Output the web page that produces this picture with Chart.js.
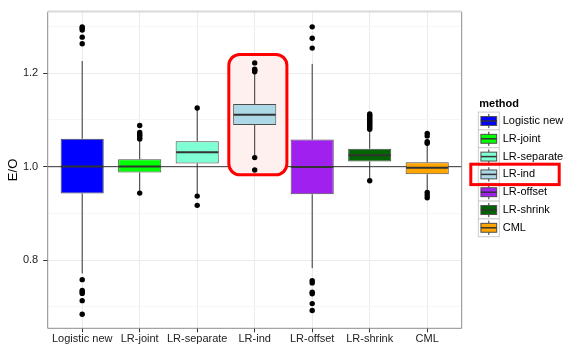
<!DOCTYPE html>
<html>
<head>
<meta charset="utf-8">
<script src="https://cdn.jsdelivr.net/npm/chart.js@4"></script>
<style>
  html, body { margin: 0; padding: 0; background: #fff; }
  canvas { display: block; }
</style>
</head>
<body>
<canvas id="c" width="565" height="345"></canvas>
<script>
// Box-plot summary of E/O per method
const categories  = ['Logistic new', 'LR-joint', 'LR-separate', 'LR-ind', 'LR-offset', 'LR-shrink', 'CML'];
const q1          = [0.9426, 0.9875, 1.0070, 1.0890, 0.9410, 1.0112, 0.9838];
const q3          = [1.0598, 1.0160, 1.0545, 1.1340, 1.0580, 1.0384, 1.0092];
const medians     = [1.0002, 1.0004, 1.0306, 1.1108, 0.9995, 1.0247, 0.9978];
const whiskerLow  = [0.7717, 0.9460, 0.9410, 1.0220, 0.7830, 0.9720, 0.9470];
const whiskerHigh = [1.2260, 1.0560, 1.1225, 1.1990, 1.2198, 1.0775, 1.0490];

// Points beyond the whiskers, one list per method
const outliersLogisticNew = [1.2990, 1.2960, 1.2920, 1.2770, 1.2630, 0.7584, 0.7352, 0.7320, 0.7290, 0.7135, 0.6846];
const outliersJoint       = [1.0880, 1.0730, 1.0690, 1.0660, 1.0620, 1.0590, 0.9435];
const outliersSeparate    = [1.1255, 0.9371, 0.9173];
const outliersInd         = [1.2219, 1.2084, 1.2055, 1.2030, 1.0194, 0.9930];
const outliersOffset      = [1.2990, 1.2747, 1.2536, 0.7563, 0.7515, 0.7317, 0.7283, 0.7072, 0.6924];
const outliersShrink      = [1.1129, 1.1100, 1.1070, 1.1040, 1.1010, 1.0980, 1.0950, 1.0920, 1.0890, 1.0860, 1.0830, 1.0798, 0.9700];
const outliersCML         = [1.0713, 1.0658, 1.0532, 1.0500, 0.9447, 0.9392, 0.9335];
const outliers = [outliersLogisticNew, outliersJoint, outliersSeparate, outliersInd, outliersOffset, outliersShrink, outliersCML];

const fillColors = ['#0000FF', '#00FF00', '#7FFFD4', '#ADD8E6', '#A020F0', '#006400', '#FFA500'];
const yTicks     = [0.7, 0.8, 0.9, 1.0, 1.1, 1.2, 1.3];
const yLabelled  = [0.8, 1.0, 1.2];
const refValue   = 1.0;
const legendTitle = 'method';
const highlightIndex = 3; // LR-ind

const FONT = '"Liberation Sans", Arial, Helvetica, sans-serif';
const isMajor = v => yLabelled.some(t => Math.abs(t - v) < 1e-6);

const boxData = categories.map((c, i) => ({ x: i + 1, y: [q1[i], q3[i]] }));
const outlierPoints = [];
outliers.forEach((list, i) => list.forEach(v => outlierPoints.push({ x: i + 1, y: v })));

// Highlight frame around one method, in data units
const highlight = { x0: highlightIndex + 1 - 0.45, x1: highlightIndex + 1 + 0.56, y0: 0.9825, y1: 1.240 };

const boxExtras = {
  id: 'boxExtras',
  beforeDatasetsDraw(chart) {
    const { ctx, chartArea: a, scales: { x, y } } = chart;
    ctx.save();
    // reference line at E/O = 1
    const yr = y.getPixelForValue(refValue);
    ctx.strokeStyle = '#333';
    ctx.lineWidth = 1;
    ctx.beginPath(); ctx.moveTo(a.left, yr); ctx.lineTo(a.right, yr); ctx.stroke();

    // highlight frame
    const hx0 = x.getPixelForValue(highlight.x0), hx1 = x.getPixelForValue(highlight.x1);
    const hy0 = y.getPixelForValue(highlight.y1), hy1 = y.getPixelForValue(highlight.y0);
    ctx.beginPath();
    ctx.roundRect(hx0, hy0, hx1 - hx0, hy1 - hy0, 11);
    ctx.fillStyle = '#fff0f0';
    ctx.fill();
    ctx.lineWidth = 3;
    ctx.strokeStyle = '#ff0000';
    ctx.stroke();

    // whiskers
    ctx.strokeStyle = '#333';
    ctx.lineWidth = 1;
    categories.forEach((c, i) => {
      const px = x.getPixelForValue(i + 1);
      ctx.beginPath();
      ctx.moveTo(px, y.getPixelForValue(whiskerLow[i]));
      ctx.lineTo(px, y.getPixelForValue(q1[i]));
      ctx.moveTo(px, y.getPixelForValue(q3[i]));
      ctx.lineTo(px, y.getPixelForValue(whiskerHigh[i]));
      ctx.stroke();
    });
    ctx.restore();
  },
  afterDatasetDraw(chart, args) {
    if (args.index !== 0) return;
    const { ctx, scales: { y } } = chart;
    ctx.save();
    ctx.strokeStyle = '#333';
    ctx.lineWidth = 2;
    args.meta.data.forEach((bar, i) => {
      const { x, width } = bar.getProps(['x', 'width'], true);
      const py = y.getPixelForValue(medians[i]);
      ctx.beginPath();
      ctx.moveTo(x - width / 2 + 0.5, py);
      ctx.lineTo(x + width / 2 - 0.5, py);
      ctx.stroke();
    });
    ctx.restore();
  },
  afterDraw(chart) {
    const { ctx, chartArea: a } = chart;
    ctx.save();
    // panel border
    ctx.strokeStyle = '#8c8c8c';
    ctx.lineWidth = 1;
    ctx.beginPath();
    ctx.moveTo(a.left, a.top); ctx.lineTo(a.left, a.bottom); ctx.lineTo(a.right, a.bottom); ctx.lineTo(a.right, a.top);
    ctx.stroke();
    ctx.strokeStyle = '#d9d9d9';
    ctx.lineWidth = 2;
    ctx.beginPath(); ctx.moveTo(a.left, a.top); ctx.lineTo(a.right, a.top); ctx.stroke();

    // legend
    const kx = 478.3, kw = 21, kh = 17.8, top0 = 112.1;
    ctx.fillStyle = '#000';
    ctx.textBaseline = 'middle';
    ctx.textAlign = 'left';
    ctx.font = 'bold 11px ' + FONT;
    ctx.fillText(legendTitle, 479.3, 104);
    ctx.font = '11px ' + FONT;
    categories.forEach((c, i) => {
      const ty = top0 + kh * i, cy = ty + kh / 2, cx = kx + kw / 2;
      ctx.fillStyle = '#ffffff';
      ctx.fillRect(kx, ty, kw, kh);
      ctx.strokeStyle = '#cccccc';
      ctx.lineWidth = 1;
      ctx.strokeRect(kx, ty, kw, kh);
      ctx.strokeStyle = '#333';
      ctx.beginPath();
      ctx.moveTo(cx, ty + kh * 0.1); ctx.lineTo(cx, ty + kh * 0.25);
      ctx.moveTo(cx, ty + kh * 0.75); ctx.lineTo(cx, ty + kh * 0.9);
      ctx.stroke();
      const bx = kx + kw * 0.125, bw = kw * 0.75, by = ty + kh * 0.25, bh = kh * 0.5;
      ctx.fillStyle = fillColors[i];
      ctx.fillRect(bx, by, bw, bh);
      ctx.strokeStyle = '#4d4d4d';
      ctx.strokeRect(bx, by, bw, bh);
      ctx.lineWidth = 1.5;
      ctx.strokeStyle = '#333';
      ctx.beginPath(); ctx.moveTo(bx, cy); ctx.lineTo(bx + bw, cy); ctx.stroke();
      ctx.fillStyle = '#000';
      ctx.fillText(c, 502.7, cy);
    });
    // legend highlight
    ctx.strokeStyle = '#ff0000';
    ctx.lineWidth = 3;
    const hy = top0 + kh * highlightIndex + kh / 2;
    ctx.strokeRect(470.8, hy - 10.2, 88.4, 20.4);
    ctx.restore();
  }
};

new Chart(document.getElementById('c'), {
  type: 'bar',
  data: {
    datasets: [
      {
        type: 'bar',
        data: boxData,
        backgroundColor: fillColors,
        borderColor: '#4d4d4d',
        borderWidth: 1,
        borderSkipped: false,
        barPercentage: 0.75,
        categoryPercentage: 1,
        order: 2
      },
      {
        type: 'scatter',
        data: outlierPoints,
        pointRadius: 2.7,
        pointBackgroundColor: '#000',
        pointBorderWidth: 0,
        order: 1
      }
    ]
  },
  options: {
    responsive: false,
    animation: false,
    events: [],
    layout: { padding: { top: 7.3, right: 103.3, left: 0, bottom: 0 } },
    plugins: { legend: { display: false }, tooltip: { enabled: false } },
    scales: {
      x: {
        type: 'linear',
        offset: false,
        min: 0.4,
        max: 7.6,
        afterBuildTicks(s) { s.ticks = categories.map((c, i) => ({ value: i + 1 })); },
        afterFit(s) { s.height = 16.7; },
        ticks: {
          autoSkip: false,
          maxRotation: 0,
          padding: 0,
          color: '#222',
          font: { family: FONT, size: 11 },
          callback: v => categories[Math.round(v) - 1] ?? ''
        },
        grid: { offset: false, color: '#ebebeb', lineWidth: 1, tickLength: 4, tickColor: '#333' },
        border: { display: false }
      },
      y: {
        type: 'linear',
        min: 0.6544,
        max: 1.3316,
        afterBuildTicks(s) { s.ticks = yTicks.map(v => ({ value: v })); },
        afterFit(s) { s.width = 47.7; },
        ticks: {
          padding: 5,
          color: '#222',
          font: { family: FONT, size: 11 },
          callback: v => isMajor(v) ? v.toFixed(1) : ''
        },
        grid: {
          color: c => isMajor(c.tick.value) ? '#ebebeb' : '#f6f6f6',
          lineWidth: 1,
          tickLength: 4.5,
          tickColor: c => isMajor(c.tick.value) ? '#333' : 'rgba(0,0,0,0)'
        },
        border: { display: false },
        title: {
          display: true,
          text: 'E/O',
          color: '#000',
          font: { family: FONT, size: 13 },
          padding: { top: 6, bottom: 0 }
        }
      }
    }
  },
  plugins: [boxExtras]
});
</script>
</body>
</html>
